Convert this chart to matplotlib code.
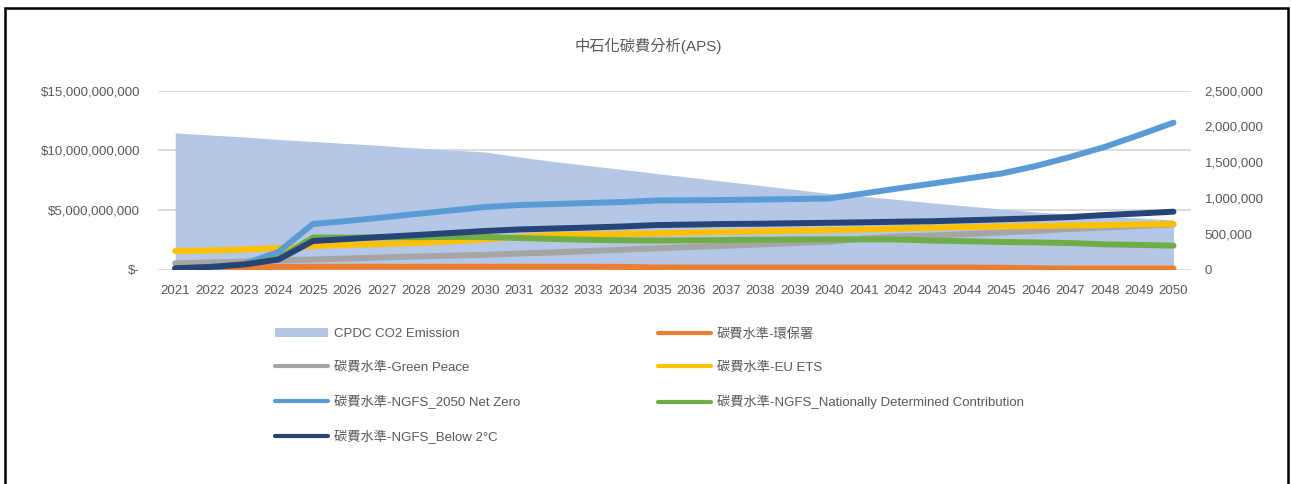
import matplotlib
matplotlib.use('Agg')
import matplotlib.pyplot as plt
from matplotlib.ticker import FuncFormatter, FixedLocator
from matplotlib.patches import Rectangle, Patch
from matplotlib.lines import Line2D
from matplotlib.transforms import blended_transform_factory

plt.rcParams['font.family'] = ['Liberation Sans', 'Noto Sans CJK TC']

years = list(range(2021, 2051))

# CPDC CO2 emission (right axis, tonnes)
co2_emission = [1909000, 1881000, 1853000, 1818000, 1790000, 1762000, 1734000, 1699000, 1671000, 1643000,
                1573000, 1510000, 1454000, 1398000, 1342000, 1286000, 1230000, 1175000, 1119000, 1063000,
                1021000, 979000, 930000, 888000, 846000, 804000, 776000, 748000, 720000, 692000]

# carbon fee levels (left axis, billions of $)
fee_epa = [0.10, 0.15, 0.20, 0.22, 0.23, 0.23, 0.23, 0.23, 0.23, 0.23,
           0.23, 0.23, 0.23, 0.22, 0.17, 0.16, 0.16, 0.16, 0.16, 0.16,
           0.16, 0.16, 0.16, 0.16, 0.15, 0.10, 0.09, 0.09, 0.09, 0.09]
fee_greenpeace = [0.52, 0.59, 0.67, 0.76, 0.84, 0.92, 1.01, 1.09, 1.16, 1.23,
                  1.34, 1.43, 1.55, 1.66, 1.78, 1.89, 1.99, 2.10, 2.22, 2.33,
                  2.60, 2.77, 2.85, 2.98, 3.10, 3.23, 3.40, 3.52, 3.65, 3.78]
fee_netzero = [0.04, 0.13, 0.46, 1.47, 3.82, 4.07, 4.36, 4.66, 4.95, 5.24,
               5.41, 5.49, 5.58, 5.66, 5.79, 5.81, 5.83, 5.87, 5.91, 5.96,
               6.38, 6.80, 7.21, 7.63, 8.05, 8.68, 9.44, 10.28, 11.28, 12.32]
fee_below2 = [0.10, 0.21, 0.42, 0.84, 2.39, 2.56, 2.73, 2.89, 3.06, 3.23,
              3.36, 3.44, 3.52, 3.61, 3.73, 3.77, 3.82, 3.84, 3.88, 3.92,
              3.96, 4.01, 4.05, 4.13, 4.21, 4.30, 4.40, 4.57, 4.70, 4.85]
fee_ndc = [0.10, 0.21, 0.46, 0.92, 2.68, 2.68, 2.70, 2.71, 2.73, 2.73,
           2.64, 2.56, 2.49, 2.45, 2.43, 2.45, 2.47, 2.50, 2.52, 2.53,
           2.53, 2.52, 2.43, 2.37, 2.31, 2.27, 2.22, 2.11, 2.06, 2.00]
fee_euets = [1.55, 1.59, 1.68, 1.80, 1.97, 2.06, 2.14, 2.22, 2.35, 2.52,
             2.73, 2.89, 2.94, 2.99, 3.04, 3.10, 3.16, 3.21, 3.26, 3.31,
             3.36, 3.44, 3.50, 3.57, 3.61, 3.65, 3.69, 3.73, 3.78, 3.82]

left_ticks = [0, 5e9, 10e9, 15e9]
right_ticks = [0, 5e5, 1e6, 1.5e6, 2e6, 2.5e6]

text_color = '#595959'
fs = 9.5

fig = plt.figure(figsize=(12.91, 4.84), dpi=100)
ax = fig.add_axes([158 / 1291, 214.5 / 484, 1032.7 / 1291, 178.8 / 484])
ax2 = ax.twinx()   # area, right axis
ax3 = ax.twinx()   # lines, left scale
ax.set_zorder(0)
ax2.set_zorder(1)
ax3.set_zorder(2)

ax.set_xlim(2020.5, 2050.5)
ax.set_ylim(0, 15e9)
ax2.set_ylim(0, 2.5e6)
ax3.set_ylim(0, 15e9)

ax.yaxis.set_major_locator(FixedLocator(left_ticks))
ax.yaxis.set_major_formatter(FuncFormatter(lambda v, p: '$-' if v == 0 else '${:,.0f}'.format(v)))
ax.set_xticks(years)
ax.set_xticklabels([str(y) for y in years])
ax.tick_params(axis='x', length=0, pad=11, labelsize=fs, labelcolor=text_color)
ax.tick_params(axis='y', length=0, pad=13, labelsize=fs, labelcolor=text_color)

ax2.yaxis.set_major_locator(FixedLocator(right_ticks))
ax2.yaxis.set_major_formatter(FuncFormatter(lambda v, p: '{:,.0f}'.format(v)))
ax2.tick_params(axis='y', length=0, pad=10, labelsize=fs, labelcolor=text_color)
ax3.yaxis.set_visible(False)

for a in (ax, ax2, ax3):
    for s in a.spines.values():
        s.set_visible(False)
    a.patch.set_visible(a is ax)

# gridlines of the left axis, kept underneath the emission area
grid_tf = blended_transform_factory(ax2.transAxes, ax.transData)
for t in left_ticks:
    ax2.add_line(Line2D([0, 1], [t, t], transform=grid_tf, color='#D9D9D9',
                        linewidth=1.3, zorder=0))

ax2.fill_between(years, co2_emission, 0, color='#B4C7E7', linewidth=0, zorder=1)

series = [
    (fee_epa, '#ED7D31'),
    (fee_greenpeace, '#A5A5A5'),
    (fee_euets, '#FFC000'),
    (fee_netzero, '#5B9BD5'),
    (fee_ndc, '#70AD47'),
    (fee_below2, '#264478'),
]
for vals, col in series:
    ax3.plot(years, [v * 1e9 for v in vals], color=col, linewidth=4.3,
             solid_capstyle='round', solid_joinstyle='round')

fig.text(0.502, 0.905, '中石化碳費分析(APS)', ha='center', va='center',
         fontsize=11, color=text_color)

def lh(col):
    return Line2D([], [], color=col, linewidth=3, solid_capstyle='round')

col1 = [Patch(facecolor='#B4C7E7', edgecolor='none'), lh('#A5A5A5'), lh('#5B9BD5'), lh('#264478')]
lab1 = ['CPDC CO2 Emission', '碳費水準-Green Peace', '碳費水準-NGFS_2050 Net Zero', '碳費水準-NGFS_Below 2°C']
col2 = [lh('#ED7D31'), lh('#FFC000'), lh('#70AD47')]
lab2 = ['碳費水準-環保署', '碳費水準-EU ETS', '碳費水準-NGFS_Nationally Determined Contribution']

leg_kw = dict(loc='upper left', frameon=False, fontsize=fs, labelcolor=text_color,
              handlelength=4.0, handletextpad=0.45, labelspacing=1.6,
              borderpad=0, borderaxespad=0)
fig.legend(col1, lab1, bbox_to_anchor=(275 / 1291, (484 - 328) / 484), **leg_kw)
fig.legend(col2, lab2, bbox_to_anchor=(658 / 1291, (484 - 328) / 484), **leg_kw)

fig.add_artist(Rectangle((5 / 1291, -0.05), 1283 / 1291, (484 - 8) / 484 + 0.05,
                         transform=fig.transFigure, fill=False, edgecolor='black',
                         linewidth=1.8))

fig.savefig('out.png', dpi=100)
